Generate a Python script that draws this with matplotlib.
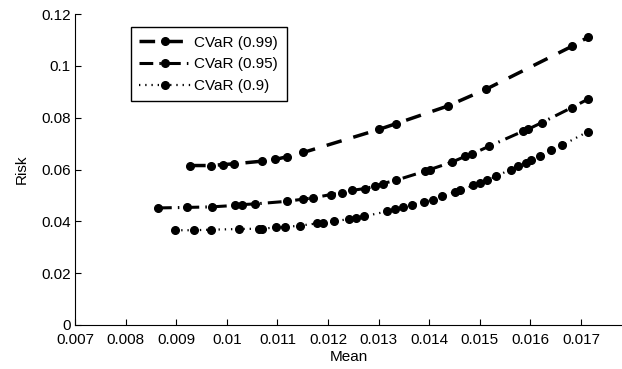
import matplotlib
matplotlib.use("Agg")
import matplotlib.pyplot as plt
import numpy as np

plt.rcParams["font.family"] = ["Liberation Sans", "DejaVu Sans"]
plt.rcParams["font.size"] = 11

# ------------------------------------------------------------
# data (mean, risk)
# ------------------------------------------------------------
mean_99 = [0.009273, 0.009688, 0.009931, 0.010148, 0.010690, 0.010953, 0.011184,
           0.011512, 0.013008, 0.013344, 0.014366, 0.015123, 0.016816, 0.017132]
risk_99 = [0.06153, 0.06153, 0.06192, 0.06219, 0.06320, 0.06386, 0.06490,
           0.06657, 0.07547, 0.07768, 0.08449, 0.09097, 0.10749, 0.11097]

mean_95 = [0.008640, 0.009207, 0.009707, 0.010162, 0.010294, 0.010557, 0.011184,
           0.011512, 0.011698, 0.012053, 0.012271, 0.012480, 0.012731, 0.012929,
           0.013081, 0.013344, 0.013917, 0.014016, 0.014445, 0.014708, 0.014840,
           0.015188, 0.015860, 0.015947, 0.016223, 0.016816, 0.017132]
risk_95 = [0.04517, 0.04536, 0.04559, 0.04613, 0.04645, 0.04672, 0.04772,
           0.04857, 0.04904, 0.05032, 0.05097, 0.05198, 0.05264, 0.05353,
           0.05458, 0.05585, 0.05934, 0.06000, 0.06282, 0.06503, 0.06592,
           0.06901, 0.07482, 0.07547, 0.07806, 0.08387, 0.08708]

mean_90 = [0.008976, 0.009342, 0.009688, 0.010241, 0.010636, 0.010702, 0.010972,
           0.011150, 0.011437, 0.011773, 0.011901, 0.012125, 0.012415, 0.012547,
           0.012711, 0.013172, 0.013324, 0.013476, 0.013654, 0.013897, 0.014069,
           0.014247, 0.014510, 0.014609, 0.014872, 0.015004, 0.015136, 0.015320,
           0.015611, 0.015761, 0.015907, 0.016006, 0.016190, 0.016407, 0.016619,
           0.017132]
risk_90 = [0.03657, 0.03657, 0.03677, 0.03704, 0.03715, 0.03715, 0.03766,
           0.03781, 0.03832, 0.03917, 0.03936, 0.03998, 0.04091, 0.04130,
           0.04192, 0.04385, 0.04478, 0.04540, 0.04633, 0.04749, 0.04838,
           0.04966, 0.05136, 0.05198, 0.05392, 0.05485, 0.05585, 0.05740,
           0.06000, 0.06127, 0.06259, 0.06348, 0.06514, 0.06735, 0.06928,
           0.07457]

labels = ["CVaR (0.99)", "CVaR (0.95)", "CVaR (0.9)"]
x_ticks = [0.007, 0.008, 0.009, 0.01, 0.011, 0.012, 0.013, 0.014, 0.015, 0.016, 0.017]
x_tick_labels = ["0.007", "0.008", "0.009", "0.01", "0.011", "0.012", "0.013",
                 "0.014", "0.015", "0.016", "0.017"]
y_ticks = [0, 0.02, 0.04, 0.06, 0.08, 0.1, 0.12]
y_tick_labels = ["0", "0.02", "0.04", "0.06", "0.08", "0.1", "0.12"]

# ------------------------------------------------------------
# figure
# ------------------------------------------------------------
fig = plt.figure(figsize=(6.22, 3.69), dpi=100)
ax = fig.add_axes([75 / 622, 44 / 369, 547 / 622, 311 / 369])

ax.plot(mean_99, risk_99, color="black", linestyle=(0, (4.5, 3.5)), linewidth=2.5,
        marker="o", markersize=5.5, label=labels[0])
ax.plot(mean_95, risk_95, color="black", linestyle=(0, (4.5, 2, 0.5, 2)), linewidth=2.2,
        marker="o", markersize=5.5, label=labels[1])
ax.plot(mean_90, risk_90, color="black", linestyle=(0, (0.6, 2.2)), linewidth=1.6,
        marker="o", markersize=5.5, label=labels[2])

ax.set_xlim(0.007, 0.007 + 547 / 50.6 * 0.001)
ax.set_ylim(0, 0.12)
ax.set_xticks(x_ticks)
ax.set_xticklabels(x_tick_labels)
ax.set_yticks(y_ticks)
ax.set_yticklabels(y_tick_labels)
ax.tick_params(direction="in", length=4, width=0.8, colors="black")
ax.tick_params(axis="x", pad=6)
ax.tick_params(axis="y", pad=3)

ax.spines["top"].set_visible(False)
ax.spines["right"].set_visible(False)

ax.set_xlabel("Mean", labelpad=2)
ax.set_ylabel("Risk", labelpad=9)

leg = ax.legend(loc="upper left", bbox_to_anchor=(0.1025, 0.957), fancybox=False,
                edgecolor="black", framealpha=1, handlelength=3.35, borderpad=0.55,
                labelspacing=0.5, handletextpad=0.25, borderaxespad=0, fontsize=11)
leg.get_frame().set_linewidth(1.0)

fig.savefig("out.png", dpi=100)
